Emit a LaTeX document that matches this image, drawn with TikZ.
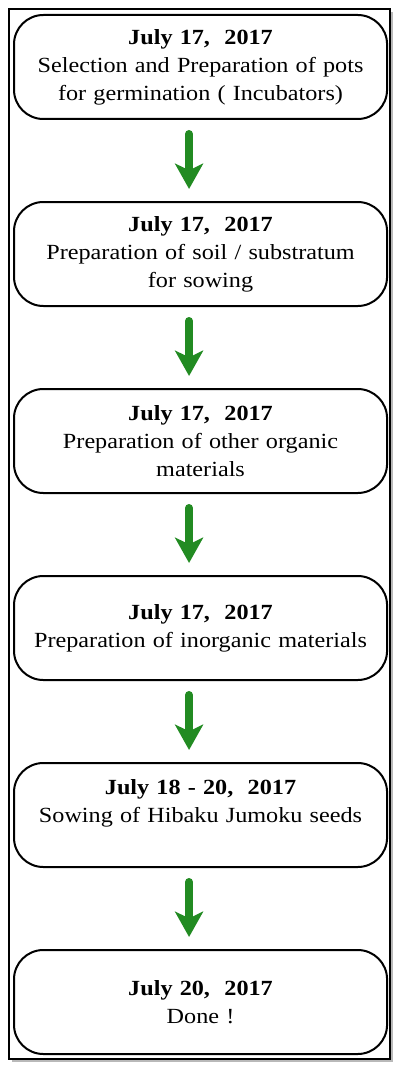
\documentclass[tikz,border=0pt]{standalone}
\usepackage{fontspec}
\setmainfont[FakeStretch=1.12]{Liberation Serif}
\usetikzlibrary{positioning, arrows.meta}
\definecolor{stepgreen}{RGB}{34,139,34}
\tikzset{
        node distance=60.75pt, % gap between two boxes
        flow/.style={draw=stepgreen, line width=6pt, line cap=round,
            -{Stealth[length=19pt,width=21pt,inset=5pt]},
            shorten <=10.5pt, shorten >=9pt}, % the green arrows
    }
\tikzstyle{datebox}=[draw,line width=1.5pt,rounded corners=22pt,fill=white,text width=265pt,inner xsep=7.4pt,minimum height=78pt,align=center,font=\fontsize{16.2}{21}\selectfont]

\begin{document}
\begin{tikzpicture}
    \useasboundingbox (0,0) rectangle (300pt,-802.5pt);
    % frame and its shadow
    \fill[gray!55] (9pt,-9pt) rectangle (294.75pt,-796.5pt);
    \draw[fill=white, line width=0.8pt] (6.75pt,-6.75pt) rectangle (292.5pt,-794.25pt);

    \node[datebox] (pots) at (150.4pt,-50.25pt)
        {\textbf{July 17,\ \ 2017}\\ Selection and Preparation of pots\\ for germination ( Incubators)};
    \node[datebox, below=of pots] (soil)
        {\textbf{July 17,\ \ 2017}\\ Preparation of soil / substratum\\ for sowing};
    \node[datebox, below=of soil] (organic)
        {\textbf{July 17,\ \ 2017}\\ Preparation of other organic\\ materials};
    \node[datebox, below=of organic] (inorganic)
        {\textbf{July 17,\ \ 2017}\\ Preparation of inorganic materials};
    \node[datebox, below=of inorganic] (sowing)
        {\textbf{July 18 - 20,\ \ 2017}\\ Sowing of Hibaku Jumoku seeds\\ ~};
    \node[datebox, below=of sowing] (done)
        {\textbf{July 20,\ \ 2017}\\ Done !};

    \foreach \a/\b in {pots/soil, soil/organic, organic/inorganic, inorganic/sowing, sowing/done}
        \draw[flow] ([xshift=-8.6pt]\a.south) -- ([xshift=-8.6pt]\b.north);
\end{tikzpicture}
\end{document}
